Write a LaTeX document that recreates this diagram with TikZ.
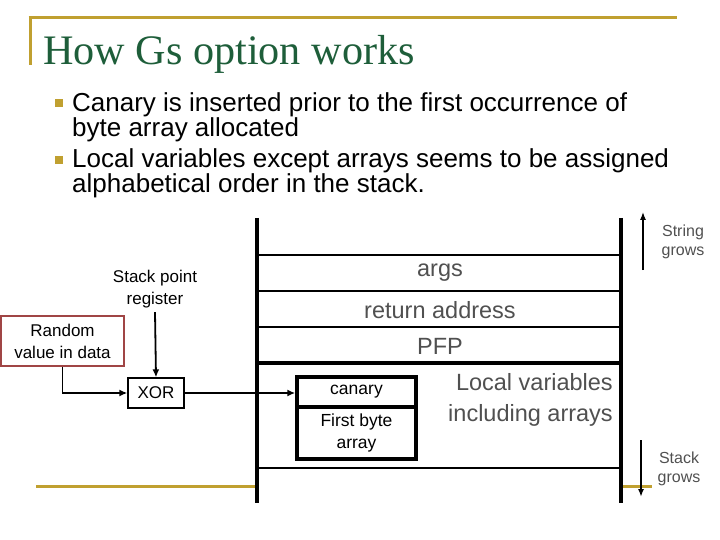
\documentclass[tikz,border=0pt]{standalone}
\usepackage{fontspec}
\setmainfont{Liberation Sans}
\newfontfamily\titlefont{Liberation Serif}
\usetikzlibrary{arrows.meta}
\definecolor{gold}{HTML}{C0A030}
\definecolor{titlegreen}{HTML}{1E5E3A}
\definecolor{txtgray}{HTML}{505050}
\definecolor{redbox}{HTML}{A04545}
\tikzset{
  goldline/.style={gold, line width=3pt},
  bullettxt/.style={anchor=base west, inner sep=0pt, font=\fontsize{26}{26}\selectfont},
  slottxt/.style={inner sep=0pt, text=txtgray, font=\fontsize{23.5}{24}\selectfont},
  smalltxt/.style={inner sep=0pt, align=center, font=\fontsize{17}{22}\selectfont},
  growtxt/.style={inner sep=0pt, align=center, text=txtgray, font=\fontsize{16}{19.5}\selectfont},
  frameline/.style={line width=4pt},
  slotline/.style={line width=2.5pt},
  arr/.style={-{Latex[length=8pt,width=7pt]}, line width=1.8pt},
  canbox/.style={draw, line width=3.5pt, minimum width=119pt, inner sep=0pt, align=center, font=\fontsize{17.5}{22}\selectfont}
}
\begin{document}
\begin{tikzpicture}[x=1pt,y=-1pt]
\useasboundingbox (0,0) rectangle (720,540);
% template lines
\draw[goldline] (28.5,18) -- (677,18);
\draw[goldline] (30,16.5) -- (30,65);
\draw[goldline] (36,486) -- (257,486);
\draw[goldline] (621,486) -- (652,486);
% title
\node[anchor=base west, inner sep=0pt, text=titlegreen, font=\titlefont\fontsize{40}{40}\selectfont] (title) at (43,65) {\scalebox{1.055}[1.05]{How Gs option works}};
% bullets
\fill[gold] (55,99) rectangle (63,107);
\fill[gold] (55,156) rectangle (63,164);
\node[bullettxt] (b1a) at (72,112) {Canary is inserted prior to the first occurrence of};
\node[bullettxt] (b1b) at (72,137) {byte array allocated};
\node[bullettxt] (b2a) at (72,168) {Local variables except arrays seems to be assigned};
\node[bullettxt] (b2b) at (72,193) {alphabetical order in the stack.};
% stack frame
\draw[frameline] (257,218) -- (257,503);
\draw[frameline] (621,218) -- (621,503);
\draw[slotline] (257,255) -- (621,255);
\draw[slotline] (257,291) -- (621,291);
\draw[slotline] (257,327) -- (621,327);
\draw[frameline] (257,363) -- (621,363);
\draw[slotline] (257,468) -- (621,468);
\node[slottxt] (args) at (440,273) {args};
\node[slottxt] (ret) at (440,310) {return address};
\node[slottxt] (pfp) at (440,346) {PFP};
\node[slottxt, anchor=east] (loc1) at (613,382) {Local variables};
\node[slottxt, anchor=east] (loc2) at (613,415) {including arrays};
% canary box
\node[canbox, minimum height=30pt] (canary) at (356.5,392) {canary};
\node[canbox, minimum height=52pt] (array) at (356.5,433) {First byte\\array};
% left side
\node[draw, line width=1.3pt, minimum width=56pt, minimum height=30pt, inner sep=0pt, font=\fontsize{17}{20}\selectfont] (xor) at (156,393) {XOR};
\node[draw=redbox, line width=1.4pt, minimum width=123pt, minimum height=50pt, smalltxt] (rand) at (62.5,341) {Random\\value in data};
\node[smalltxt] (spr) at (155,289) {Stack point\\register};
\draw[arr] (spr.south) ++(0,4) -- (xor.north);
\draw[arr] (rand.south) |- (xor.west);
\draw[arr] (xor.east) -- (xor.east -| canary.west);
% growth arrows
\coordinate (sgA) at (643,270);
\coordinate (sgB) at (643,212);
\draw[-{Latex[length=8pt,width=6pt]}, line width=1.2pt] (sgA) -- (sgB);
\node[growtxt] (sg) at (683,242) {String\\grows};
\coordinate (kgA) at (641,440);
\coordinate (kgB) at (641,497);
\draw[-{Latex[length=8pt,width=6pt]}, line width=1.8pt] (kgA) -- (kgB);
\node[growtxt] (kg) at (679,469) {Stack\\grows};
\end{tikzpicture}
\end{document}
